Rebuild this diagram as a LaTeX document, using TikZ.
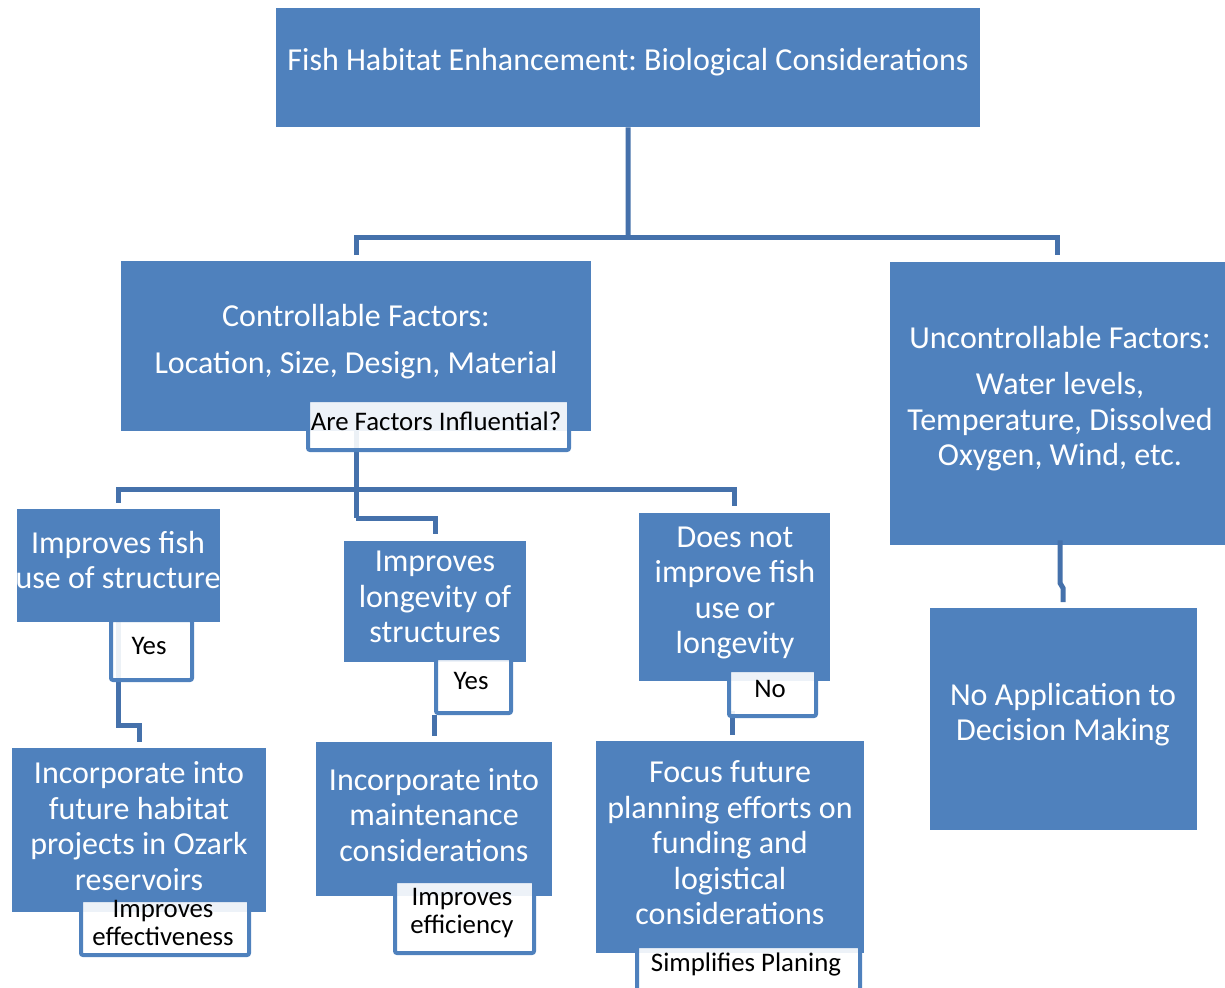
\documentclass[tikz,border=0pt]{standalone}
\usepackage{fontspec}
\setmainfont{Carlito}
\frenchspacing
\definecolor{boxblue}{HTML}{4F81BD}
\definecolor{lineblue}{HTML}{4571AB}
\begin{document}
\begin{tikzpicture}[x=1pt,y=-1pt,
  bbox/.style={fill=boxblue, draw=none, inner sep=0, anchor=north west},
  lbl/.style={draw=boxblue, line width=4pt, fill=white, fill opacity=0.9, rounded corners=2pt, inner sep=0, anchor=north west},
  txt/.style={text=white, font=\fontsize{32}{35.5}\selectfont, align=center, inner sep=0},
  ltxt/.style={text=black, font=\fontsize{26.8}{28}\selectfont, align=center, inner sep=0},
  conn/.style={draw=lineblue, line width=5pt}]
\useasboundingbox (0,0) rectangle (1225,987);

% main boxes
\node[bbox, minimum width=704, minimum height=119] (title) at (276,8) {};
\node[bbox, minimum width=470, minimum height=170] (ctrl) at (121,261) {};
\node[bbox, minimum width=335, minimum height=283] (unc) at (890,262) {};
\node[bbox, minimum width=267, minimum height=222] (noapp) at (930,608) {};
\node[bbox, minimum width=203, minimum height=113] (impfish) at (17,509) {};
\node[bbox, minimum width=182, minimum height=121] (implong) at (344,541) {};
\node[bbox, minimum width=191, minimum height=168] (doesnot) at (639,513) {};
\node[bbox, minimum width=254, minimum height=164] (ozark) at (12,748) {};
\node[bbox, minimum width=236, minimum height=154] (maint) at (316,742) {};
\node[bbox, minimum width=268, minimum height=212] (focus) at (596,741) {};

% connectors
\coordinate (j1) at (628,237);
\draw[conn] (title.south) -- (j1);
\draw[conn, shorten >=6] (j1) -| (ctrl.north);
\draw[conn, shorten >=7] (j1) -| (unc.north);

\coordinate (j2) at (356,489);
\coordinate (j3) at (356,518);
\draw[conn] (ctrl.south -| j2) -- (j3);
\draw[conn, shorten >=6] (j2) -| (impfish.north);
\draw[conn, shorten >=7] (j2) -| (doesnot.north);
\draw[conn, shorten >=7] (j3) -| (implong.north);

\coordinate (j4) at (118,725);
\draw[conn, shorten >=6] (impfish.south -| j4) -- (j4) -| (ozark.north);

\coordinate (k1) at (1060,583);
\coordinate (k2) at (1063,588);
\draw[conn, shorten >=6] ([yshift=5]unc.south -| k1) -- (k1) -- (k2) -- (k2 |- noapp.north);

\coordinate (m2) at (732,0);
\draw[conn, shorten >=6] ([yshift=-30]doesnot.south -| m2) -- (m2 |- focus.north);

% label boxes
\node[lbl, minimum width=261, minimum height=50] (areF) at (306,398) {};
\node[lbl, minimum width=81, minimum height=60] (yes1) at (109,618) {};
\node[lbl, minimum width=75, minimum height=55] (yes2) at (434,656) {};
\node[lbl, minimum width=87, minimum height=46] (nobox) at (727,668) {};
\node[lbl, minimum width=168, minimum height=55] (eff) at (79,898) {};
\node[lbl, minimum width=139, minimum height=72] (effic) at (393,879) {};
\node[lbl, minimum width=223, minimum height=50] (simp) at (635,944) {};

\coordinate (m1) at (434,0);
\draw[conn, shorten >=6] (yes2.south -| m1) -- (m1 |- maint.north);

% texts
\node[txt] (t-title) at (628,62) {Fish Habitat Enhancement: Biological Considerations};
\node[txt] (t-ctrl1) at (356,316) {Controllable Factors:};
\node[txt] (t-ctrl2) at (356,365) {Location, Size, Design, Material};
\node[txt] (t-unc1) at (1060,338) {Uncontrollable Factors:};
\node[txt] (t-unc2) at (1060,422) {Water levels,\\Temperature, Dissolved\\Oxygen, Wind, etc.};
\node[txt] (t-noapp) at (1063,714.5) {No Application to\\Decision Making};
\node[txt] (t-impfish) at (118,560) {Improves fish\\use of structure};
\node[txt] (t-implong) at (435,597) {Improves\\longevity of\\structures};
\node[txt] (t-doesnot) at (735,593) {Does not\\improve fish\\use or\\longevity};
\node[txt] (t-ozark) at (139,826) {Incorporate into\\future habitat\\projects in Ozark\\reservoirs};
\node[txt] (t-maint) at (434,815) {Incorporate into\\maintenance\\considerations};
\node[txt] (t-focus) at (730,843) {Focus future\\planning efforts on\\funding and\\logistical\\considerations};

\node[ltxt] (t-areF) at (436,421) {Are Factors Influential?};
\node[ltxt] (t-yes1) at (149,646) {Yes};
\node[ltxt] (t-yes2) at (471,681) {Yes};
\node[ltxt] (t-no) at (770,689) {No};
\node[ltxt] (t-eff) at (163,923) {Improves\\effectiveness};
\node[ltxt] (t-effic) at (462,913) {Improves\\efficiency};
\node[ltxt] (t-simp) at (746,964) {Simplifies Planing};
\end{tikzpicture}
\end{document}
